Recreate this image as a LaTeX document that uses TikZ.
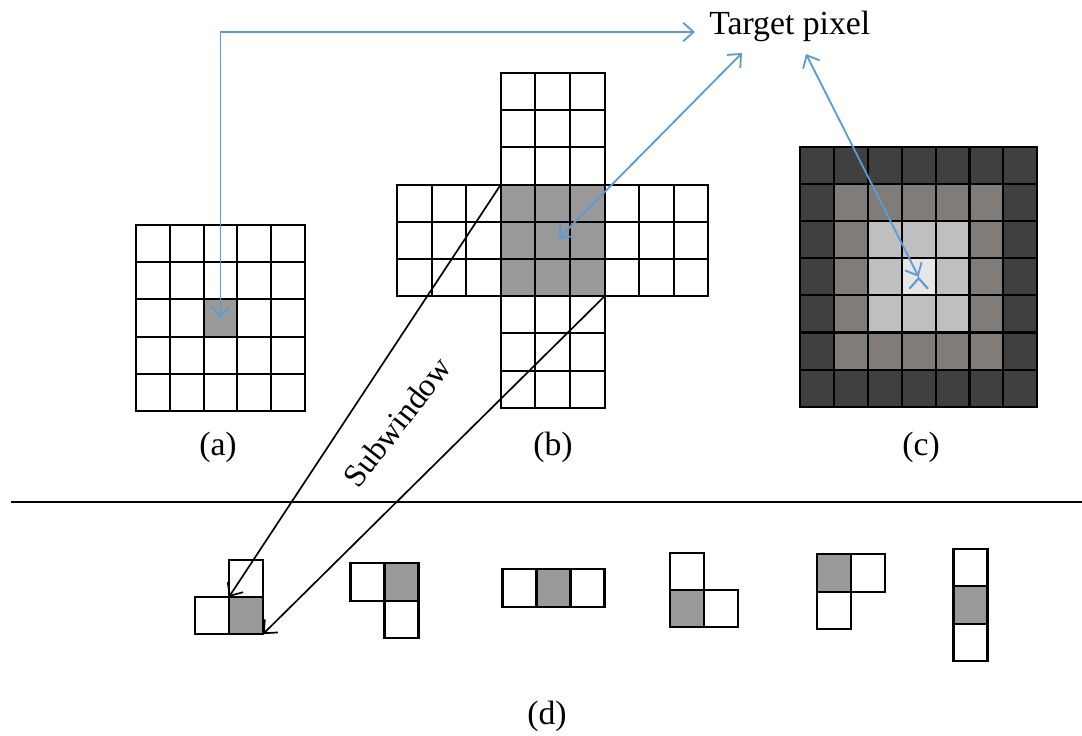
\documentclass[tikz,border=0pt]{standalone}
\usepackage{fontspec}
\setmainfont{Liberation Serif}
\usetikzlibrary{positioning,arrows.meta}

\definecolor{pixgray}{HTML}{999999}
\definecolor{linkblue}{HTML}{5B9BD5}
\definecolor{ring0}{HTML}{404040}
\definecolor{ring1}{HTML}{7F7C7A}
\definecolor{ring2}{HTML}{BFBFBF}
\definecolor{ring3}{HTML}{E6E6E6}

\begin{document}
\begin{tikzpicture}[x=0.025cm,y=-0.025cm,>={Straight Barb[length=2.6mm,width=4.6mm]},
            cell/.style={draw,line width=1.5pt,fill=white,inner sep=0pt,outer sep=0pt,
                         minimum width=0.85cm,minimum height=0.93cm},
            hit/.style={cell,fill=pixgray},
            bcell/.style={minimum width=0.865cm},
            ccell/.style={minimum width=0.8475cm,minimum height=0.9275cm},
            label node/.style={font=\fontsize{24}{28}\selectfont},
            link/.style={<->,draw=linkblue,line width=1.3pt},
            sub/.style={->,line width=1.2pt}]

        \useasboundingbox (0,0) rectangle (1082,735);

        % Define grids
        \foreach \i in {0,...,4}
            \foreach \j in {0,...,4}
                \node[cell,minimum width=0.845cm] (a-\i-\j) at ({136+33.8*(\i+0.5)},{225+37.2*(\j+0.5)}) {};
        \node[hit,minimum width=0.845cm] (a-hit) at (a-2-2) {};

        \foreach \i in {3,4,5}
            \foreach \j in {0,1,2,6,7,8}
                \node[cell,bcell] (b-\i-\j) at ({397+34.6*(\i+0.5)},{73+37.2*(\j+0.5)}) {};
        \foreach \i in {0,1,2,6,7,8}
            \foreach \j in {3,4,5}
                \node[cell,bcell] (b-\i-\j) at ({397+34.6*(\i+0.5)},{73+37.2*(\j+0.5)}) {};
        \foreach \i in {3,4,5}
            \foreach \j in {3,4,5}
                \node[hit,bcell] (b-\i-\j) at ({397+34.6*(\i+0.5)},{73+37.2*(\j+0.5)}) {};

        \foreach \i in {0,...,6}
            \foreach \j in {0,...,6} {
                \pgfmathtruncatemacro\ring{min(\i,\j,6-\i,6-\j)}
                \node[cell,ccell,fill=ring\ring] (c-\i-\j) at ({800+33.9*(\i+0.5)},{147+37.1*(\j+0.5)}) {};
            }

        % Define subwindows
        \node[hit] (d1-hit) at (246,615.5) {};
        \node[cell] (d1-up) [above=0pt of d1-hit] {};
        \node[cell] (d1-left) [left=0pt of d1-hit] {};

        \node[hit] (d2-hit) at (401.5,582) {};
        \node[cell] (d2-left) [left=0pt of d2-hit] {};
        \node[cell] (d2-down) [below=0pt of d2-hit] {};

        \node[hit] (d3-hit) at (553.5,588) {};
        \node[cell] (d3-left) [left=0pt of d3-hit] {};
        \node[cell] (d3-right) [right=0pt of d3-hit] {};

        \node[hit] (d4-hit) at (687,608.5) {};
        \node[cell] (d4-up) [above=0pt of d4-hit] {};
        \node[cell] (d4-right) [right=0pt of d4-hit] {};

        \node[hit] (d5-hit) at (834,573) {};
        \node[cell] (d5-right) [right=0pt of d5-hit] {};
        \node[cell] (d5-down) [below=0pt of d5-hit] {};

        \node[hit] (d6-hit) at (970.5,605) {};
        \node[cell] (d6-up) [above=0pt of d6-hit] {};
        \node[cell] (d6-down) [below=0pt of d6-hit] {};

        % Labels
        \node[label node] (la) at (218,447) {(a)};
        \node[label node] (lb) at (553,447) {(b)};
        \node[label node] (lc) at (921,447) {(c)};
        \node[label node] (ld) at (547,716) {(d)};
        \node[label node,anchor=base west,inner sep=0pt] (target) at (709,35) {Target pixel};
        \node[label node,font=\fontsize{23}{27}\selectfont,rotate=52,inner sep=1pt] (subw) at (397,422) {Subwindow};

        \coordinate (sepL) at (11,502);
        \coordinate (sepR) at (1082,502);
        \draw[line width=1.5pt] (sepL) -- (sepR);

        % Draw edges
        \draw[link] (a-hit.center) |- ([shift={(-14,-3)}]target.base west);
        \path[link]
            ([shift={(6,-2)}]b-4-4.center) edge ([shift={(33,18)}]target.base west)
            (c-3-3.center) edge ([shift={(97,19)}]target.base west);
        \path[sub]
            (b-3-3.north west) edge (d1-hit.north west)
            (b-5-5.south east) edge (d1-hit.south east);

        \end{tikzpicture}
\end{document}
